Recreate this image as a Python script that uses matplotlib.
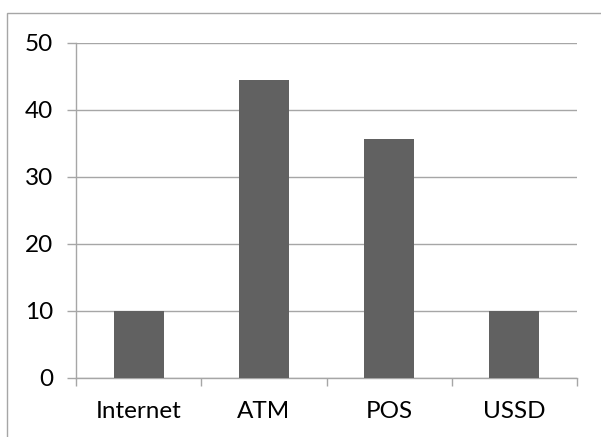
import matplotlib
matplotlib.use("Agg")
import matplotlib.pyplot as plt
from matplotlib.patches import Rectangle
import numpy as np

categories = ["Internet", "ATM", "POS", "USSD"]
values = [10, 44.4, 35.6, 10]
y_ticks = [0, 10, 20, 30, 40, 50]

plt.rcParams['font.family'] = ['Lato', 'DejaVu Sans']

grid_color = "#a6a6a6"
bar_color = "#616161"

fig = plt.figure(figsize=(6.01, 4.37), dpi=100)
fig.patch.set_facecolor("white")

# outer chart frame (left and top edges visible)
fig.patches.append(Rectangle((6.5 / 601, -0.1), 1.2, 1.1 - 13 / 437,
                             transform=fig.transFigure, fill=False,
                             edgecolor=grid_color, linewidth=1.0))

ax = fig.add_axes([76 / 601, 1 - 377.7 / 437, (577 - 76) / 601, (377.7 - 42.7) / 437])

x = np.arange(len(categories))
ax.bar(x, values, width=0.4, color=bar_color, zorder=3)

ax.set_xlim(-0.5, len(categories) - 0.5)
ax.set_ylim(0, 50)
ax.set_yticks(y_ticks)
ax.set_yticklabels([str(t) for t in y_ticks], fontsize=17.5)

ax.set_xticks(np.arange(len(categories) + 1) - 0.5)
ax.set_xticklabels([])
ax.set_xticks(x, minor=True)
ax.set_xticklabels(categories, minor=True, fontsize=17.5)

ax.tick_params(axis="x", which="major", length=6, width=1, color=grid_color, direction="out")
ax.tick_params(axis="x", which="minor", length=0, pad=16.5)
ax.tick_params(axis="y", length=6.5, width=1, color=grid_color, direction="out", pad=10)

ax.yaxis.grid(True, color=grid_color, linewidth=1.0, zorder=0)
ax.set_axisbelow(True)

for side in ("top", "right"):
    ax.spines[side].set_visible(False)
for side in ("left", "bottom"):
    ax.spines[side].set_color(grid_color)
    ax.spines[side].set_linewidth(1.0)

fig.savefig("out.png", dpi=100, facecolor="white")
